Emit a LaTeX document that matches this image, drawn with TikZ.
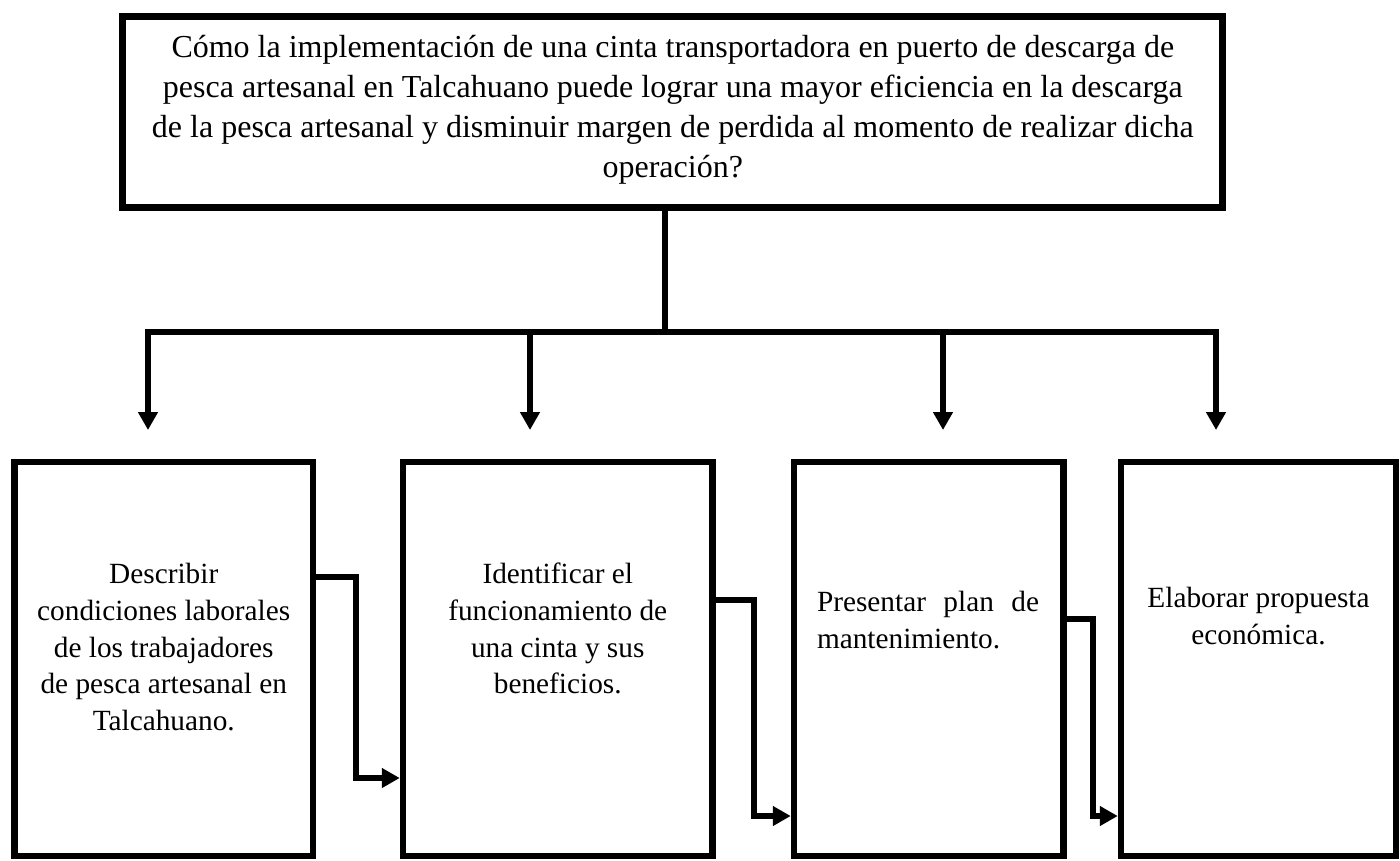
\documentclass[tikz,border=0pt]{standalone}
\usepackage{fontspec}
\setmainfont{Liberation Serif}
\usetikzlibrary{arrows.meta}
\tikzset{
  topbox/.style={draw=black, line width=7pt, minimum width=1099.7pt, minimum height=190.7pt, inner sep=0pt},
  stepbox/.style={draw=black, line width=6.5pt, minimum height=394pt, inner sep=0pt},
  bigtext/.style={font=\fontsize{32}{40}\selectfont, align=center, inner sep=0pt},
  smalltext/.style={font=\fontsize{29.3}{36.7}\selectfont, align=center, inner sep=0pt},
  conn/.style={draw=black, line width=6pt, line join=miter},
  arrowend/.style={-{Triangle[length=18pt,width=19pt]}},
  arrowboth/.style={{Triangle[length=18pt,width=19pt]}-{Triangle[length=18pt,width=19pt]}}
}
\begin{document}
\begin{tikzpicture}[x=1pt,y=-1pt]
\useasboundingbox (0,0) rectangle (1400,860);
% question box
\node[topbox] (q) at (672.8,111.7) {};
\node[bigtext] (qt) at (672.8,109.2) {\strut C\'omo la implementaci\'on de una cinta transportadora en puerto de descarga de\\
\strut pesca artesanal en Talcahuano puede lograr una mayor eficiencia en la descarga\\
\strut de la pesca artesanal y disminuir margen de perdida al momento de realizar dicha\\
\strut operaci\'on?};
% objective boxes
\node[stepbox, minimum width=298.5pt] (b1) at (163.75,659) {};
\node[stepbox, minimum width=309.5pt] (b2) at (557.75,659) {};
\node[stepbox, minimum width=269.5pt] (b3) at (928.75,659) {};
\node[stepbox, minimum width=275pt] (b4) at (1258.5,659) {};
\node[smalltext] (t1) at (163.75,649.8) {\strut Describir\\ \strut condiciones laborales\\ \strut de los trabajadores\\ \strut de pesca artesanal en\\ \strut Talcahuano.};
\node[smalltext] (t2) at (557.75,631.3) {\strut Identificar el\\ \strut funcionamiento de\\ \strut una cinta y sus\\ \strut beneficios.};
\node[smalltext, text width=222pt, align=left] (t3) at (928,622.6) {\strut Presentar\hfill plan\hfill de\\ \strut mantenimiento.};
\node[smalltext] (t4) at (1258.5,618.8) {\strut Elaborar propuesta\\ \strut econ\'omica.};
% distribution bus
\coordinate (bj) at (665,332);
\coordinate (bus1) at (148,332);
\coordinate (bus2) at (530,332);
\coordinate (bus3) at (943,332);
\coordinate (bus4) at (1216,332);
\coordinate (tip1) at (148,430);
\coordinate (tip2) at (530,430);
\coordinate (tip3) at (943,430);
\coordinate (tip4) at (1216,430);
\draw[conn] (q.south -| bj) -- (bj);
\draw[conn, arrowboth] (tip1) -- (bus1) -- (bus4) -- (tip4);
\draw[conn, arrowend] (bus2) -- (tip2);
\draw[conn, arrowend] (bus3) -- (tip3);
% step connectors
\coordinate (k1) at (356,577);
\coordinate (k1e) at (356,778);
\coordinate (k2) at (754,600);
\coordinate (k2e) at (754,816);
\coordinate (k3) at (1093,619);
\coordinate (k3e) at (1093,816);
\draw[conn, arrowend] (b1.east |- k1) -- (k1) -- (k1e) -- (b2.west |- k1e);
\draw[conn, arrowend] (b2.east |- k2) -- (k2) -- (k2e) -- (b3.west |- k2e);
\draw[conn, arrowend] (b3.east |- k3) -- (k3) -- (k3e) -- (b4.west |- k3e);
\end{tikzpicture}
\end{document}
